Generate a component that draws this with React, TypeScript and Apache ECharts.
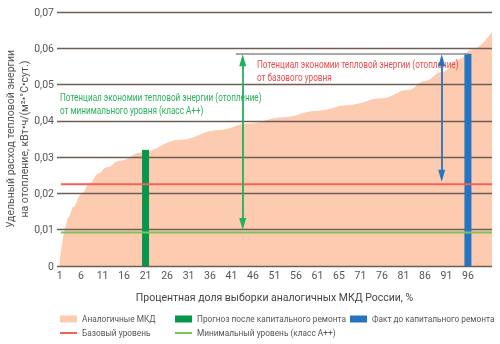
import React, { useEffect, useRef } from "react";
import * as echarts from "echarts";

// ---- data ----
const areaX = [1, 1.2, 1.5, 1.9, 2.3, 3, 4.2, 6, 8.1, 10, 12, 15, 20, 29, 38, 45, 53, 61, 68, 76, 82, 86, 90, 94, 97, 101.6];
const areaY = [0, 0.003, 0.0055, 0.0085, 0.0107, 0.0133, 0.0163, 0.0198, 0.0229, 0.0255, 0.0272, 0.029, 0.0313, 0.0348, 0.0375, 0.0393, 0.041, 0.0428, 0.0443, 0.0462, 0.0485, 0.051, 0.0535, 0.057, 0.0597, 0.0645];
const forecastBar = [[21, 0.032]];
const factBar = [[96, 0.0585]];
const baseLevel = 0.0225;
const minLevel = 0.0092;
const factLevel = 0.0585;
const levelStartX = 1.3;
const xMin = 0.4;
const xMax = 101.6;
const yMin = 0;
const yMax = 0.07;
const yInterval = 0.01;
const xTickValues = [1, 6, 11, 16, 21, 26, 31, 36, 41, 46, 51, 56, 61, 66, 71, 76, 81, 86, 91, 96];
const xTickLabels = ["1", "6", "11", "16", "21", "26", "31", "36", "41", "46", "51", "56", "61", "65", "71", "76", "81", "86", "91", "96"];
// arrow ends (centres of the arrow heads)
const greenArrow = { x: 43.6, from: 0.0567, to: 0.0116 };
const blueArrow = { x: 89.9, from: 0.0567, to: 0.0249 };
const factLineStart = 42;

const names = {
  area: "Аналогичные МКД",
  forecast: "Прогноз после капитального ремонта",
  fact: "Факт до капитального ремонта",
  base: "Базовый уровень",
  min: "Минимальный уровень (класс А++)",
};

const C = {
  area: "#fdcbb0",
  grid: "#6b5f55",
  red: "#f0625a",
  lightGreen: "#7cc35a",
  green: "#06964c",
  blue: "#2474bf",
  arrowGreen: "#1fb25a",
  text: "#555555",
  annGreen: "#2bb25d",
  annRed: "#ef4a4a",
};

const FONT = "Roboto, 'Noto Sans', sans-serif";

export default function App() {
  const ref = useRef<HTMLDivElement>(null);
  useEffect(() => {
    if (!ref.current) return;
    const chart = echarts.init(ref.current, null, { renderer: "svg" });
    const legendBase = {
      orient: "horizontal",
      padding: 0,
      itemWidth: 17,
      itemHeight: 7,
      textStyle: { color: C.text, fontSize: 8.3, fontFamily: FONT, padding: [0, 0, 0, 0] },
      selectedMode: false,
    };
    chart.setOption({
      animation: false,
      textStyle: { fontFamily: FONT },
      grid: { left: 57, right: 8, top: 12, bottom: 78, containLabel: false, outerBoundsMode: "none" },
      xAxis: {
        type: "value",
        min: xMin,
        max: xMax,
        splitLine: { show: false },
        axisLine: { show: false },
        axisTick: { show: false },
        axisLabel: {
          customValues: xTickValues,
          formatter: (v: number) => {
            const i = xTickValues.indexOf(Math.round(v));
            return i >= 0 ? xTickLabels[i] : "";
          },
          color: C.text,
          fontSize: 10.5,
          fontFamily: FONT,
          margin: 4,
        },
        name: "Процентная доля выборки аналогичных МКД России, %",
        nameLocation: "middle",
        nameGap: 26,
        nameTextStyle: { color: "#444", fontSize: 10.5, fontFamily: FONT },
      },
      yAxis: {
        type: "value",
        min: yMin,
        max: yMax,
        interval: yInterval,
        axisLine: { show: false },
        axisTick: { show: false },
        splitLine: { show: true, lineStyle: { color: C.grid, width: 1.3 } },
        axisLabel: {
          color: C.text,
          fontSize: 10.5,
          fontFamily: FONT,
          margin: 3,
          formatter: (v: number) => (v === 0 ? "0" : v.toFixed(2).replace(".", ",")),
        },
        name: "Удельный расход тепловой энергии\nна отопление, кВт•ч/(м²•°С•сут.)",
        nameLocation: "middle",
        nameRotate: 90,
        nameMoveOverlap: false,
        nameGap: 26,
        nameTextStyle: { color: C.text, fontSize: 10.5, fontFamily: FONT, lineHeight: 14 },
      },
      legend: [
        { ...legendBase, left: 60, top: 315, data: [{ name: names.area, icon: "rect" }] },
        { ...legendBase, left: 175, top: 315, data: [{ name: names.forecast, icon: "rect" }] },
        { ...legendBase, left: 350, top: 315, data: [{ name: names.fact, icon: "rect" }] },
        { ...legendBase, left: 60, top: 329, itemHeight: 2, data: [{ name: names.base, icon: "rect" }] },
        { ...legendBase, left: 175, top: 329, itemHeight: 2, data: [{ name: names.min, icon: "rect" }] },
      ],
      series: [
        {
          name: names.area,
          type: "line",
          z: -1,
          data: areaX.map((x, i) => [x, areaY[i]]),
          smooth: 0.4,
          smoothMonotone: "x",
          showSymbol: false,
          symbol: "none",
          lineStyle: { width: 0, color: C.area },
          itemStyle: { color: C.area },
          areaStyle: { color: C.area, opacity: 1 },
        },
        {
          name: names.forecast,
          type: "bar",
          data: forecastBar,
          barWidth: 7,
          itemStyle: { color: C.green },
          z: 3,
        },
        {
          name: names.fact,
          type: "bar",
          data: factBar,
          barWidth: 7,
          barGap: "-100%",
          itemStyle: { color: C.blue },
          z: 3,
          markLine: {
            silent: true,
            symbol: ["none", "none"],
            label: { show: false },
            lineStyle: { color: "#8c8c8c", width: 1.5, type: "solid" },
            data: [[{ coord: [factLineStart, factLevel] }, { coord: [factBar[0][0], factLevel] }]],
          },
        },
        {
          name: names.base,
          type: "line",
          z: 4,
          data: [[levelStartX, baseLevel], [xMax, baseLevel]],
          symbol: "none",
          lineStyle: { color: C.red, width: 2 },
          itemStyle: { color: C.red },
        },
        {
          name: names.min,
          type: "line",
          z: 4,
          data: [[levelStartX, minLevel], [xMax, minLevel]],
          symbol: "none",
          lineStyle: { color: C.lightGreen, width: 2 },
          itemStyle: { color: C.lightGreen },
        },
        {
          name: "arrows",
          type: "line",
          z: 5,
          data: [],
          markLine: {
            silent: true,
            symbol: ["triangle", "triangle"],
            symbolSize: [7, 12],
            label: { show: false },
            data: [
              [
                { coord: [greenArrow.x, greenArrow.from], lineStyle: { color: C.arrowGreen, width: 1.8, type: "solid" }, itemStyle: { color: C.arrowGreen } },
                { coord: [greenArrow.x, greenArrow.to] },
              ],
              [
                { coord: [blueArrow.x, blueArrow.from], lineStyle: { color: C.blue, width: 1.8, type: "solid" }, itemStyle: { color: C.blue } },
                { coord: [blueArrow.x, blueArrow.to] },
              ],
            ],
          },
        },
      ],
      graphic: [
        {
          type: "text",
          x: 60,
          y: 91,
          scaleX: 0.78,
          style: {
            text: "Потенциал экономии тепловой энергии (отопление)\nот минимального уровня (класс А++)",
            fill: C.annGreen,
            font: `10.5px ${FONT}`,
            lineHeight: 13,
          },
        },
        {
          type: "text",
          x: 257,
          y: 58,
          scaleX: 0.78,
          style: {
            text: "Потенциал экономии тепловой энергии (отопление)\nот базового уровня",
            fill: C.annRed,
            font: `10.5px ${FONT}`,
            lineHeight: 13,
          },
        },
      ],
    });
    return () => chart.dispose();
  }, []);
  return <div ref={ref} style={{ position: "fixed", left: 0, top: 0, width: 500, height: 344 }} />;
}
